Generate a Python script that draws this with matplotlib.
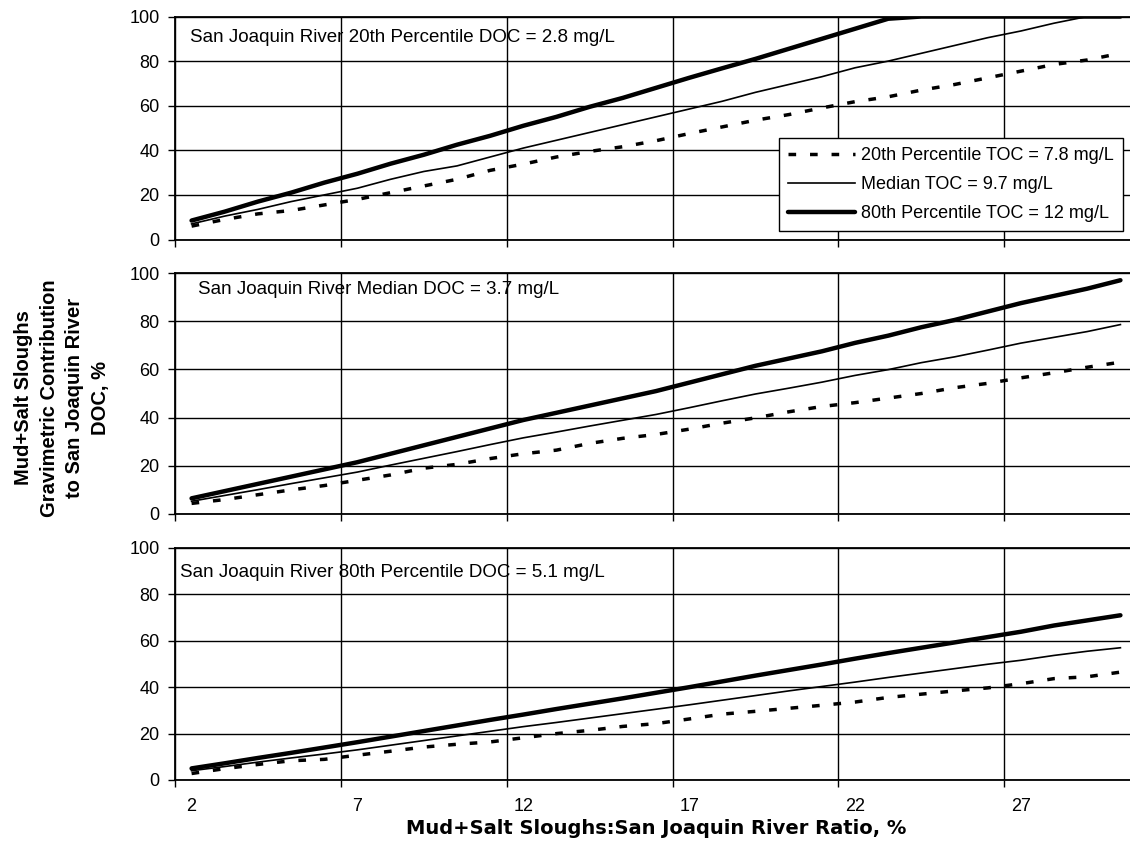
import matplotlib
matplotlib.use("Agg")
import matplotlib.pyplot as plt
from matplotlib.lines import Line2D

plt.rcParams['font.family'] = ['Liberation Sans', 'DejaVu Sans']

# Mud+Salt Sloughs : San Joaquin River ratio, %
ratio = list(range(2, 31))
tick_ratios = [2, 7, 12, 17, 22, 27]
y_ticks = [0, 20, 40, 60, 80, 100]

panel_titles = [
    "San Joaquin River 20th Percentile DOC = 2.8 mg/L",
    "San Joaquin River Median DOC = 3.7 mg/L",
    "San Joaquin River 80th Percentile DOC = 5.1 mg/L",
]
series_labels = [
    "20th Percentile TOC = 7.8 mg/L",
    "Median TOC = 9.7 mg/L",
    "80th Percentile TOC = 12 mg/L",
]

# San Joaquin River DOC = 2.8 mg/L
doc28_toc78 = [6, 9, 11.5, 13, 15.5, 18, 21, 24, 27, 31, 33.8, 37, 39.5, 41.6, 44.3,
               47.5, 50.5, 53.5, 56, 59, 61.8, 64, 67, 69.5, 72.5, 75.5, 78.5, 80.5, 83.5]
doc28_toc97 = [7, 10.5, 13.5, 17, 20, 23, 27, 30.5, 33, 37, 41, 44.5, 48, 51.5, 55,
               58.5, 62, 66, 69.5, 73, 77, 80, 83.5, 87, 90.5, 93.5, 97, 100, 100]
doc28_toc12 = [8.5, 12.5, 17, 21, 25.5, 29.5, 34, 38, 42.5, 46.5, 51, 55, 59.5, 63.5, 68,
               72.5, 76.8, 81, 85.5, 90, 94.5, 99, 100, 100, 100, 100, 100, 100, 100]

# San Joaquin River DOC = 3.7 mg/L
doc37_toc78 = [4.4, 6, 8, 10, 11.8, 14, 16.2, 19, 20.6, 23, 25, 26.5, 29.3, 31.4, 33,
               35.2, 37.7, 39.9, 42.4, 44.6, 46.2, 48.1, 50, 52.4, 54.2, 56.5, 58.6, 60.9, 63]
doc37_toc97 = [5.3, 7.7, 10.1, 12.6, 15, 17.4, 20.3, 23.1, 25.9, 28.8, 31.6, 34, 36.5, 38.9, 41.3,
               44.1, 47, 49.8, 52.2, 54.7, 57.5, 59.9, 62.8, 65.2, 68, 70.9, 73.3, 75.7, 78.6]
doc37_toc12 = [6.5, 9.5, 12.5, 15.5, 18.5, 21.5, 25, 28.5, 32, 35.5, 39, 42, 45, 48, 51,
               54.5, 58, 61.5, 64.5, 67.5, 71, 74, 77.5, 80.5, 84, 87.5, 90.5, 93.5, 97]

# San Joaquin River DOC = 5.1 mg/L
doc51_toc78 = [2.8, 4.9, 6.7, 8.3, 8.9, 10.7, 12.4, 14.2, 15.4, 16.4, 18.2, 20, 21.4, 23.1, 24.3,
               26.3, 28.4, 29.6, 30.9, 32.2, 33.6, 35.6, 37, 38.4, 39.7, 41.5, 43.7, 44.5, 46.5]
doc51_toc97 = [4, 5.8, 7.7, 9.5, 11.2, 13, 15, 17, 19, 21, 23, 24.8, 26.7, 28.6, 30.5,
               32.4, 34.4, 36.4, 38.4, 40.3, 42.2, 44.2, 46.1, 48, 49.9, 51.6, 53.7, 55.5, 57]
doc51_toc12 = [5, 7.2, 9.5, 11.7, 14, 16.3, 18.7, 21.1, 23.5, 25.9, 28.2, 30.6, 32.9, 35.2, 37.6,
               40, 42.5, 45, 47.4, 49.8, 52.3, 54.7, 57, 59.3, 61.6, 63.9, 66.6, 68.8, 71]

panels = [
    (doc28_toc78, doc28_toc97, doc28_toc12),
    (doc37_toc78, doc37_toc97, doc37_toc12),
    (doc51_toc78, doc51_toc97, doc51_toc12),
]

W, H = 1130, 842
fig = plt.figure(figsize=(W / 100, H / 100), dpi=100)
fig.patch.set_facecolor("white")

left_px, right_px = 175, 1137
panel_px = [(16.5, 239.5), (273, 514), (548, 780)]
title_pos = [(1.95, 90.5), (2.2, 93), (1.65, 89.5)]

styles = [
    dict(color="black", lw=2.5, linestyle=(0, (2.2, 4.0)), dash_capstyle="butt"),
    dict(color="black", lw=1.2, linestyle="-"),
    dict(color="black", lw=3.2, linestyle="-", solid_capstyle="round"),
]

axes = []
for i, ((top, bot), series, title) in enumerate(zip(panel_px, panels, panel_titles)):
    ax = fig.add_axes([left_px / W, (H - bot) / H, (right_px - left_px) / W, (bot - top) / H])
    axes.append(ax)
    for vals, st in zip(series, styles):
        ax.plot(ratio, vals, **st)
    ax.set_xlim(1.5, 30.5)
    ax.set_ylim(0, 100)
    ax.set_yticks(y_ticks)
    ax.set_xticks(tick_ratios)
    ax.set_xticks([t + 4.5 for t in tick_ratios[:-1]] + [1.5], minor=True)
    ax.tick_params(axis="x", which="major", length=0, pad=13, labelsize=13)
    ax.tick_params(axis="x", which="minor", length=5, width=1, direction="out")
    ax.tick_params(axis="y", which="major", length=5, width=1, pad=6, labelsize=13)
    if i < 2:
        ax.set_xticklabels([])
    ax.grid(True, axis="y", which="major", color="black", lw=1)
    ax.grid(True, axis="x", which="minor", color="black", lw=1)
    ax.set_axisbelow(True)
    for side in ("left", "bottom", "top"):
        ax.spines[side].set_linewidth(1.3)
        ax.spines[side].set_color("black")
    ax.spines["right"].set_visible(False)
    tx, ty = title_pos[i]
    ax.text(tx, ty, title, fontsize=13.5, ha="left", va="center", color="black")

handles = [Line2D([0], [0], **st) for st in styles]
leg = fig.legend(handles, series_labels, loc="upper right",
                 bbox_to_anchor=(1123 / W, (H - 138) / H), borderaxespad=0,
                 fontsize=13, frameon=True, fancybox=False, framealpha=1,
                 edgecolor="black", handlelength=3.7, handletextpad=0.35,
                 labelspacing=0.67, borderpad=0.5)
leg.get_frame().set_linewidth(1.0)

fig.text(62 / W, (H - 398) / H,
         "Mud+Salt Sloughs\nGravimetric Contribution\nto San Joaquin River\nDOC, %",
         rotation=90, ha="center", va="center", multialignment="center",
         fontsize=14.5, fontweight="bold", linespacing=1.45)
fig.text(656 / W, (H - 829) / H, "Mud+Salt Sloughs:San Joaquin River Ratio, %",
         ha="center", va="center", fontsize=14, fontweight="bold",
         family=["DejaVu Sans"])

fig.savefig("out.png", dpi=100, facecolor="white")
